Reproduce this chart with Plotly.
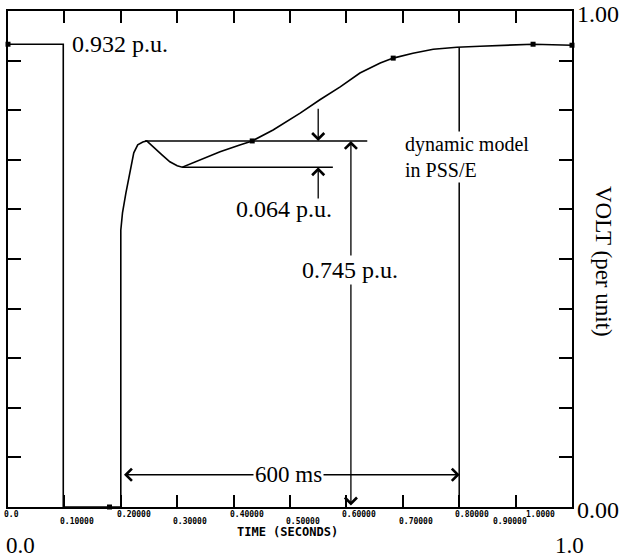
import plotly.graph_objects as go

# ---------------- data ----------------
time_s = [0.0, 0.098, 0.098, 0.200, 0.200, 0.203, 0.209, 0.216, 0.223, 0.230, 0.239, 0.246,
          0.257, 0.273, 0.287, 0.300, 0.309, 0.340, 0.376, 0.411, 0.433, 0.470, 0.518,
          0.553, 0.589, 0.624, 0.660, 0.683, 0.718, 0.754, 0.796, 0.837, 0.872, 0.931, 1.0]
volt_pu = [0.933, 0.933, 0.0, 0.0, 0.558, 0.593, 0.633, 0.673, 0.714, 0.730, 0.736, 0.738,
           0.726, 0.710, 0.696, 0.688, 0.685, 0.700, 0.716, 0.730, 0.738, 0.760, 0.794,
           0.821, 0.847, 0.875, 0.895, 0.905, 0.915, 0.923, 0.927, 0.929, 0.931, 0.933, 0.931]

marker_t = [0.0, 0.18, 0.433, 0.683, 0.931, 1.0]
marker_v = [0.933, 0.0, 0.738, 0.905, 0.933, 0.931]

xtick_vals = [0.0, 0.1, 0.2, 0.3, 0.4, 0.5, 0.6, 0.7, 0.8, 0.9, 1.0]
xtick_labels = ["0.0", "0.10000", "0.20000", "0.30000", "0.40000", "0.50000",
                "0.60000", "0.70000", "0.80000", "0.90000", "1.0000"]
ytick_vals = [0.0, 0.1, 0.2, 0.3, 0.4, 0.5, 0.6, 0.7, 0.8, 0.9, 1.0]
ylabel_vals = [0.0, 1.0]
ylabel_text = ["0.00", "1.00"]

prefault_level = 0.933
plateau_level = 0.738
dip_level = 0.685
fault_clear_t = 0.2
recovered_t = 0.8

SERIF = "Liberation Serif, Times New Roman, serif"
MONO = "DejaVu Sans Mono, monospace"

fig = go.Figure()
fig.add_trace(go.Scatter(x=time_s, y=volt_pu, mode="lines",
                         line=dict(color="black", width=1.6), showlegend=False,
                         cliponaxis=False, hoverinfo="skip"))
fig.add_trace(go.Scatter(x=marker_t, y=marker_v, mode="markers",
                         marker=dict(color="black", size=5, symbol="square"),
                         showlegend=False, cliponaxis=False, hoverinfo="skip"))

shapes = [
    dict(type="line", x0=0.243, x1=0.637, y0=plateau_level, y1=plateau_level),
    dict(type="line", x0=0.309, x1=0.576, y0=dip_level, y1=dip_level),
    dict(type="line", x0=recovered_t, x1=recovered_t, y0=0.0, y1=0.927),
]
for s in shapes:
    s.update(xref="x", yref="y", line=dict(color="black", width=1.5), layer="above")

ann = []
arrow_style = dict(showarrow=True, text="", arrowhead=4, arrowsize=1.8, arrowwidth=1.3,
                   arrowcolor="black", xref="x", yref="y", axref="x", ayref="y")
ann.append(dict(x=0.550, y=plateau_level, ax=0.550, ay=0.806, **arrow_style))
ann.append(dict(x=0.550, y=dip_level, ax=0.550, ay=0.619, **arrow_style))
ann.append(dict(x=0.608, y=plateau_level, ax=0.608, ay=0.0, arrowside="end+start",
                startarrowhead=4, startarrowsize=1.8, **arrow_style))
ann.append(dict(x=0.801, y=0.065, ax=0.203, ay=0.065, arrowside="end+start",
                startarrowhead=4, startarrowsize=1.8, **arrow_style))

def serif(size):
    return dict(family=SERIF, size=size, color="black")

txt = dict(showarrow=False, xref="x", yref="y")
ann.append(dict(text="0.932 p.u.", x=0.110, y=prefault_level, xanchor="left",
                yanchor="middle", font=serif(24), **txt))
ann.append(dict(text="dynamic model<br>in PSS/E", x=0.700, y=0.706, xanchor="left",
                yanchor="middle", align="left", bgcolor="white", font=serif(20), **txt))
ann.append(dict(text="0.064 p.u.", x=0.401, y=0.601, xanchor="left", yanchor="middle",
                font=serif(24), **txt))
ann.append(dict(text="0.745 p.u.", x=0.518, y=0.478, xanchor="left", yanchor="middle",
                bgcolor="white", font=serif(24), **txt))
ann.append(dict(text="600 ms", x=0.498, y=0.065, xanchor="center", yanchor="middle",
                bgcolor="white", font=serif(23), **txt))

# right-hand y labels
for v, lab in zip(ylabel_vals, ylabel_text):
    ann.append(dict(text=lab, x=1, y=v, xref="paper", yref="y", xanchor="left",
                    yanchor="middle", xshift=3, yshift=-3 if v == 1.0 else -3,
                    showarrow=False, font=serif(24)))

for i, (v, lab) in enumerate(zip(xtick_vals, xtick_labels)):
    xa, xs = "left", -6
    if i == len(xtick_vals) - 2:
        xs = -25
    if i == len(xtick_vals) - 1:
        xa, xs = "right", -15
    ann.append(dict(text="<b>%s</b>" % lab, x=v, y=0, xref="x", yref="paper",
                    xanchor=xa, yanchor="middle", xshift=xs,
                    yshift=-7 if i % 2 == 0 else -14, showarrow=False,
                    font=dict(family=MONO, size=8, color="black")))

ann.append(dict(text="<b>TIME (SECONDS)</b>", x=0.496, y=0, xref="paper", yref="paper",
                xanchor="center", yanchor="middle", yshift=-25, showarrow=False,
                font=dict(family=MONO, size=12, color="black")))
ann.append(dict(text="0.0", x=0, y=0, xref="paper", yref="paper", xanchor="left",
                yanchor="middle", xshift=-4, yshift=-38, showarrow=False, font=serif(23)))
ann.append(dict(text="1.0", x=1, y=0, xref="paper", yref="paper", xanchor="center",
                yanchor="middle", xshift=-3, yshift=-38, showarrow=False, font=serif(23)))
ann.append(dict(text="VOLT (per unit)", x=1.055, y=0.496, xref="paper", yref="paper",
                xanchor="center", yanchor="middle", textangle=90, showarrow=False,
                font=serif(23)))

fig.update_layout(
    width=624, height=558,
    margin=dict(l=8, r=52, t=11, b=51, pad=0, autoexpand=False),
    paper_bgcolor="white", plot_bgcolor="white",
    shapes=shapes, annotations=ann, showlegend=False,
    xaxis=dict(range=[0, 1], tickvals=xtick_vals, showticklabels=False,
               ticks="inside", ticklen=12, tickwidth=1.5, tickcolor="black",
               showline=True, linecolor="black", linewidth=2, mirror="ticks",
               showgrid=False, zeroline=False, fixedrange=True, automargin=False),
    yaxis=dict(range=[0, 1], side="right", tickvals=ytick_vals, showticklabels=False,
               ticks="inside", ticklen=13, tickwidth=1.5, tickcolor="black",
               showline=True, linecolor="black", linewidth=2, mirror="ticks",
               showgrid=False, zeroline=False, fixedrange=True, automargin=False),
)

fig.write_html("out.html")
